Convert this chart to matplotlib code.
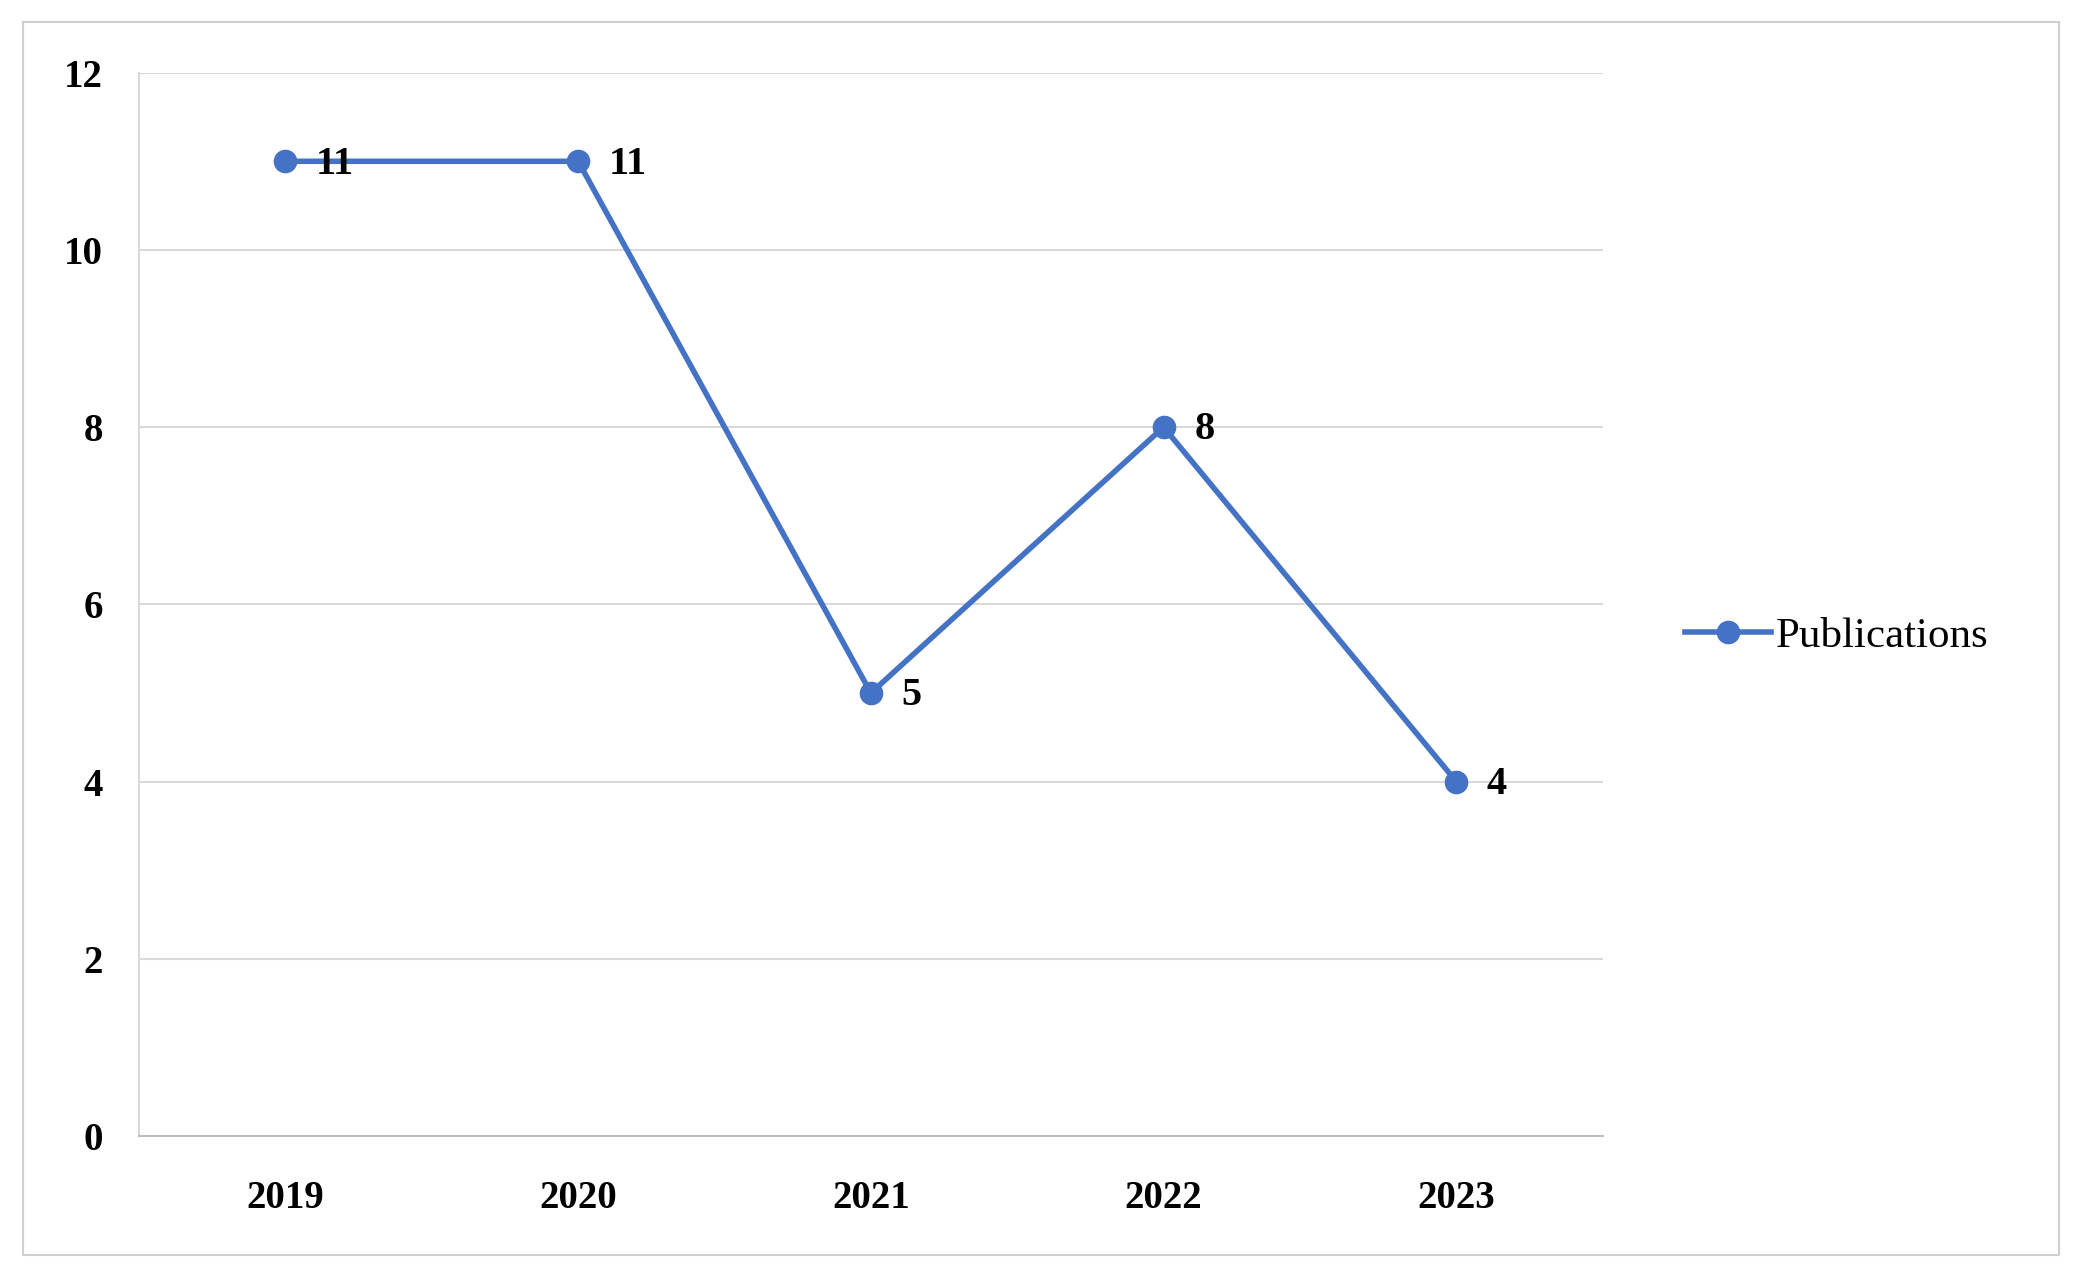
import matplotlib.pyplot as plt
from matplotlib.patches import Rectangle

years = ["2019", "2020", "2021", "2022", "2023"]
publications = [11, 11, 5, 8, 4]
y_ticks = [0, 2, 4, 6, 8, 10, 12]

plt.rcParams['font.family'] = ['Liberation Serif', 'DejaVu Serif']

fig = plt.figure(figsize=(20.76, 12.75), dpi=100)
ax = fig.add_axes([0.067, 0.109, 0.705, 0.834])

fig.patches.append(Rectangle((0.011, 0.016), 0.981, 0.967, transform=fig.transFigure,
                             fill=False, edgecolor="#d0d0d0", linewidth=1.5))

x = list(range(len(years)))
ax.plot(x, publications, color="#4472C4", linewidth=4, marker="o",
        markersize=16, label="Publications", zorder=3)
for xi, v in zip(x, publications):
    ax.annotate(str(v), (xi, v), xytext=(22, -2), textcoords="offset points",
                ha="left", va="center", fontsize=29, fontweight="bold", zorder=4)

ax.set_xlim(-0.5, len(years) - 0.5)
ax.set_ylim(0, 12)
ax.set_xticks(x)
ax.set_xticklabels(years, fontsize=28, fontweight="bold")
ax.set_yticks(y_ticks)
ax.set_yticklabels([str(t) for t in y_ticks], fontsize=28, fontweight="bold")
ax.tick_params(length=0, pad=26)
ax.tick_params(axis="x", pad=32)
ax.yaxis.grid(True, color="#d9d9d9", linewidth=1.5)
ax.set_axisbelow(True)
for s in ["top", "right"]:
    ax.spines[s].set_visible(False)
ax.spines["left"].set_color("#d9d9d9")
ax.spines["left"].set_linewidth(1.5)
ax.spines["bottom"].set_color("#bfbfbf")
ax.spines["bottom"].set_linewidth(1.5)

ax.legend(loc="center left", bbox_to_anchor=(1.03, 0.47), frameon=False,
          fontsize=31, handlelength=2.0, handletextpad=0.1)

fig.savefig("out.png", dpi=100)
